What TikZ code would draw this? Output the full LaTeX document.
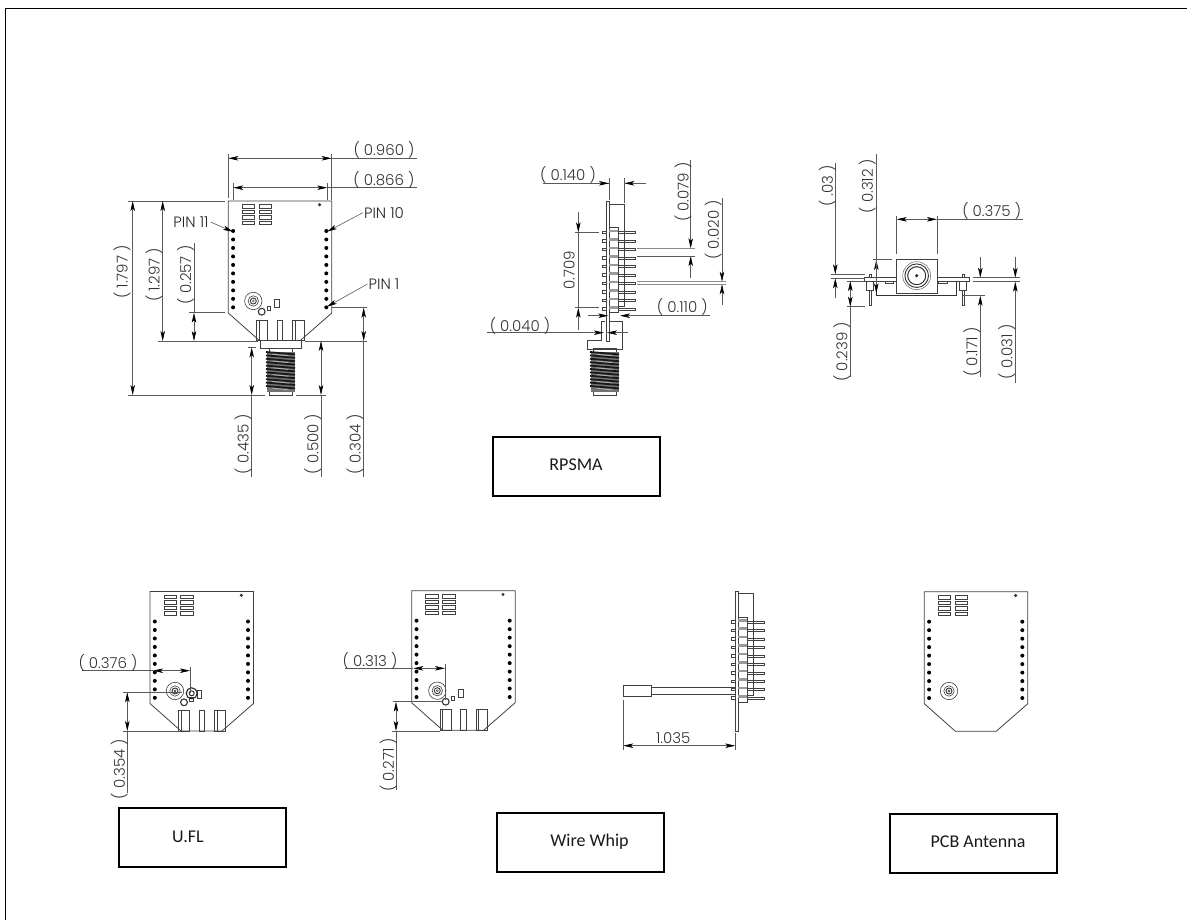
\documentclass[tikz,border=0pt]{standalone}
\usepackage{fontspec}
\setmainfont{Poppins Light}
\newfontfamily\boxfont{Carlito}
\usetikzlibrary{arrows.meta}

\tikzset{
    partline/.style={draw=black!75, line width=0.6pt},
    dimline/.style={draw=black!65, line width=0.6pt},
    dimtip/.style={dimline, -{Stealth[length=10pt, width=4.5pt, inset=2.5pt, black]}},
    dimboth/.style={dimline, {Stealth[length=10pt, width=4.5pt, inset=2.5pt, black]}-{Stealth[length=10pt, width=4.5pt, inset=2.5pt, black]}},
    dimlabel/.style={font=\fontsize{15}{17}\selectfont, text=black!80, inner sep=0pt},
    pinlabel/.style={font=\fontsize{15}{17}\selectfont, text=black!85, inner sep=1pt},
    namebox/.style={draw=black, line width=2pt, minimum width=167pt, minimum height=59pt},
    boxlabel/.style={font=\boxfont\fontsize{18}{20}\selectfont, text=black!90, inner sep=0pt},
    % board seen from the front, origin at its top left corner
    boardfront/.pic={
        \draw[partline, line width=0.8pt] (0,0) -- (103.5,0) -- (103.5,112) -- (72,139.5) -- (31,139.5) -- (0,112) -- cycle;
        \foreach \i in {0,...,9} {
            \fill[black] (4.8,30+8.48*\i) circle (2);
            \fill[black] (98,30+8.48*\i) circle (2);
        }
        \fill[black!80] (91.3,3.8) circle (1.7);
        \foreach \x in {14,30.7} {
            \foreach \y in {3.7,9.2,14.7,20.2} {
                \draw[partline] (\x,\y) rectangle (\x+12.4,\y+3.4);
            }
        }
    },
    % antenna socket rings
    socket/.pic={
        \draw[partline] (0,0) circle (8.7);
        \draw[partline] (0,0) circle (5.2);
        \draw[black!80, line width=0.9pt] (0,0) circle (3);
        \draw[black!80] (0,0) circle (1);
    },
    % small parts next to the socket
    smallparts/.pic={
        \draw[black!80, line width=1.1pt] (0,0) circle (3.4);
        \draw[partline] (5.5,-5) rectangle (9,-1.5);
        \draw[partline] (13,-12.5) rectangle (17.5,-4);
    },
    % three pads at the lower edge
    edgepads/.pic={
        \draw[partline, line width=0.8pt] (28.3,119) rectangle (39.3,139.5);
        \draw[partline, line width=0.8pt] (31,119) -- (31,139.5);
        \draw[partline, line width=0.8pt] (49,119) rectangle (54.5,139.5);
        \draw[partline, line width=0.8pt] (64.3,119) rectangle (75.7,139.5);
        \draw[partline, line width=0.8pt] (67,119) -- (67,139.5);
    },
    % board seen from the side, origin at its top left corner
    boardside/.pic={
        \draw[partline, line width=0.9pt] (0,0) rectangle (3,140);
        \draw[partline, line width=0.9pt] (3,2.5) -- (18,2.5) -- (18,104.5) -- (3,104.5);
        \foreach \i in {0,...,9} {
            \draw[partline, line width=0.7pt] (12,30+8.48*\i) rectangle (29.5,32+8.48*\i);
            \draw[partline, line width=0.7pt] (-4,29.5+8.48*\i) rectangle (0,32+8.48*\i);
        }
        \draw[partline, line width=0.9pt, fill=white] (3,26) rectangle (12,111);
        \foreach \i in {0,...,9} {
            \fill[black!40] (3,28+8.48*\i) rectangle (12,30.5+8.48*\i);
        }
    },
    % threaded barrel, origin at the top of its neck
    threadbar/.pic={
        \draw[partline] (-11.5,-1) rectangle (11.5,3);
        \draw[partline] (-11.5,42) rectangle (11.5,46.5);
        \fill[black!55] (-14,3) rectangle (14,43);
        \foreach \t in {3,6.4,...,40} {
            \draw[black!90, line width=1.8pt] (-14.5,\t) -- (14.5,\t+2.4);
        }
        \foreach \t in {5.2,12,...,40} {
            \draw[white!75!black, line width=0.6pt] (-8,\t) -- (8,\t+1.6);
        }
    },
}

\begin{document}
\begin{tikzpicture}[x=1pt, y=-1pt]
    \useasboundingbox (0,0) rectangle (1187,920);

    % sheet frame
    \draw[black, line width=0.8pt] (1187,8) -- (5,8) -- (5,920);

    % RPSMA, front view
    \pic at (228.3,201) {boardfront};
    \pic at (253.3,301) {socket};
    \pic at (261.7,311.7) {smallparts};
    \pic at (228.3,201) {edgepads};
    \draw[partline, fill=white, line width=0.8pt] (260,340.7) rectangle (301,348.3);
    \pic at (280.5,349) {threadbar};

    \draw[dimboth] (228.3,158.3) -- (331.7,158.3);
    \draw[dimline] (331.7,158.3) -- (416.7,158.3);
    \draw[dimline] (228.3,154) -- (228.3,198);
    \draw[dimline] (331.7,154) -- (331.7,200);
    \node[dimlabel] (dimA) at (384,150) {( 0.960 )};

    \draw[dimboth] (233.3,187.7) -- (327.3,187.7);
    \draw[dimline] (327.3,187.7) -- (416.7,187.7);
    \draw[dimline] (233.3,183) -- (233.3,200);
    \draw[dimline] (327.3,183) -- (327.3,200);
    \node[dimlabel] (dimB) at (384,180) {( 0.866 )};

    \draw[dimboth] (132.7,201) -- (132.7,395);
    \draw[dimline] (128,201) -- (225,201);
    \draw[dimline] (128,395) -- (265,395);
    \draw[dimline] (296,395) -- (326,395);
    \node[dimlabel, rotate=90] (dimC) at (122,272) {( 1.797 )};

    \draw[dimboth] (162.7,201) -- (162.7,341);
    \draw[dimline] (158,341) -- (258,341);
    \draw[dimline] (305,341) -- (367,341);
    \node[dimlabel, rotate=90] (dimD) at (154,275) {( 1.297 )};

    \draw[dimboth] (194,312.7) -- (194,341);
    \draw[dimline] (194,243) -- (194,312.7);
    \draw[dimline] (189,312.7) -- (225,312.7);
    \node[dimlabel, rotate=90] (dimE) at (185.5,275) {( 0.257 )};

    \draw[dimboth] (251.7,347.5) -- (251.7,395);
    \draw[dimline] (251.7,395) -- (251.7,476.7);
    \draw[dimline] (248,347.5) -- (256,347.5);
    \node[dimlabel, rotate=90] (dimF) at (243,444) {( 0.435 )};

    \draw[dimboth] (321,341) -- (321,395);
    \draw[dimline] (321,395) -- (321,476.7);
    \node[dimlabel, rotate=90] (dimG) at (312.7,444) {( 0.500 )};

    \draw[dimboth] (363.7,307.7) -- (363.7,341);
    \draw[dimline] (363.7,341) -- (363.7,476.7);
    \draw[dimline] (331.7,307.7) -- (367,307.7);
    \node[dimlabel, rotate=90] (dimH) at (355,444) {( 0.304 )};

    \node[pinlabel] (pinEleven) at (191,221.7) {PIN 11};
    \node[pinlabel] (pinTen) at (384,212.7) {PIN 10};
    \node[pinlabel] (pinOne) at (384,284) {PIN 1};
    \coordinate (holeEleven) at (233,231.7);
    \coordinate (holeTen) at (327,231.7);
    \coordinate (holeOne) at (327,306.7);
    \draw[dimtip, shorten <=1pt] (pinEleven.east) -- (holeEleven);
    \draw[dimtip] (pinTen.west) -- (holeTen);
    \draw[dimtip] (pinOne.west) -- (holeOne);

    % RPSMA, side view
    \pic at (606.3,201.7) {boardside};
    \draw[partline, line width=0.9pt] (610,321.7) -- (622.3,321.7) -- (622.3,349) -- (587.3,349) -- (587.3,340) -- (601.7,340) -- (601.7,321.7) -- (605,321.7);
    \pic at (604.5,349) {threadbar};

    \draw[dimline] (543.3,183.3) -- (609,183.3);
    \draw[dimtip] (590,183.3) -- (609,183.3);
    \draw[dimtip] (645.7,183.3) -- (624.3,183.3);
    \draw[dimline] (609,178) -- (609,200);
    \draw[dimline] (624.3,178) -- (624.3,203);
    \node[dimlabel] (dimI) at (568,175) {( 0.140 )};

    \draw[dimtip] (690.7,160) -- (690.7,248.3);
    \draw[dimtip] (690.7,277.7) -- (690.7,256);
    \draw[dimline, line width=1.2pt, draw=black!45] (636.7,248.3) -- (695,248.3);
    \draw[dimline] (636.7,256) -- (695,256);
    \node[dimlabel, rotate=90] (dimJ) at (683,192) {( 0.079 )};

    \draw[dimtip] (722,198.3) -- (722,281.7);
    \draw[dimtip] (722,305) -- (722,284.3);
    \draw[dimline, line width=0.9pt, draw=black!45] (637.3,281.7) -- (726,281.7);
    \draw[dimline, line width=0.9pt, draw=black!45] (637.3,284.3) -- (726,284.3);
    \node[dimlabel, rotate=90] (dimK) at (713.3,230) {( 0.020 )};

    \draw[dimtip] (578.3,211.7) -- (578.3,232.3);
    \draw[dimtip] (578.3,330) -- (578.3,307.7);
    \draw[dimline] (575,232.3) -- (599.3,232.3);
    \draw[dimline] (575,307.7) -- (599.3,307.7);
    \draw[dimline] (578.3,232.3) -- (578.3,307.7);
    \node[dimlabel, rotate=90] (dimL) at (569.3,270) {0.709};

    \draw[dimtip] (588.3,315.7) -- (608.3,315.7);
    \draw[dimtip] (710,315.7) -- (620,315.7);
    \node[dimlabel] (dimM) at (682.3,307) {( 0.110 )};

    \draw[dimtip] (486.7,332.7) -- (604,332.7);
    \draw[dimtip] (627.7,332.7) -- (607,332.7);
    \node[dimlabel] (dimN) at (520,325.7) {( 0.040 )};

    \node[namebox] (boxRpsma) at (576,466) {};
    \node[boxlabel] (txtRpsma) at (576,464.5) {RPSMA};

    % RPSMA, end view
    \draw[partline, line width=0.9pt] (864.7,277.3) rectangle (969,281.7);
    \draw[partline, line width=0.9pt] (866,281.7) rectangle (873.3,290);
    \draw[partline, line width=0.9pt] (959,281.7) rectangle (966.7,290);
    \draw[partline] (869,290) rectangle (871.3,305.7);
    \draw[partline] (962.3,290) rectangle (964.7,305.7);
    \draw[partline] (869,274) rectangle (871.3,277.3);
    \draw[partline] (962.3,274) rectangle (964.7,277.3);
    \draw[partline] (885,281.7) rectangle (893,283);
    \draw[partline] (938,281.7) rectangle (947,283);
    \draw[black!80, line width=1pt] (876.7,281.7) -- (876.7,295.7) -- (956.7,295.7) -- (956.7,281.7);
    \draw[partline, fill=white, line width=0.9pt] (896.7,259) rectangle (937,293.3);
    \draw[black!70] (916.7,275.7) circle (14);
    \draw[black!80, line width=0.9pt] (916.7,275.7) circle (11.8);
    \draw[black!80, line width=1pt] (916.7,275.7) circle (9);
    \fill[black!80] (916.7,275.7) circle (1.8);

    \draw[dimboth] (896.7,219.3) -- (937,219.3);
    \draw[dimline] (937,219.3) -- (1023.3,219.3);
    \draw[dimline] (896.7,216) -- (896.7,254);
    \draw[dimline] (937,216) -- (937,254);
    \node[dimlabel] (dimO) at (991.7,211) {( 0.375 )};

    \draw[dimtip] (876.3,293.3) -- (876.3,260);
    \draw[dimtip] (876.3,154) -- (876.3,293.3);
    \draw[dimline] (873.3,259) -- (891.7,259);
    \node[dimlabel, rotate=90] (dimP) at (867.3,186) {( 0.312 )};

    \draw[dimtip] (835.3,163.3) -- (835.3,274.3);
    \draw[dimtip] (835.3,298.3) -- (835.3,278.3);
    \draw[dimline] (830.7,274.3) -- (865,274.3);
    \draw[dimline] (830.7,278.3) -- (865,278.3);
    \node[dimlabel, rotate=90] (dimQ) at (827.3,186) {( .03 )};

    \draw[dimboth] (850.3,281) -- (850.3,306.7);
    \draw[dimline] (850.3,306.7) -- (850.3,376.7);
    \draw[dimline] (846.7,306) -- (865,306);
    \draw[dimline] (846.7,281) -- (865,281);
    \node[dimlabel, rotate=90] (dimR) at (841.7,351.7) {( 0.239 )};

    \draw[dimtip] (980.3,256.7) -- (980.3,277.7);
    \draw[dimtip] (980.3,376.7) -- (980.3,295.7);
    \draw[dimline] (972.7,277.7) -- (1020,277.7);
    \draw[dimline] (972.7,281.7) -- (1020,281.7);
    \draw[dimline] (963,295.7) -- (985,295.7);
    \node[dimlabel, rotate=90] (dimS) at (971.7,351.7) {( 0.171 )};

    \draw[dimtip] (1015.3,256.7) -- (1015.3,277.7);
    \draw[dimtip] (1015.3,383) -- (1015.3,281.7);
    \node[dimlabel, rotate=90] (dimT) at (1006.7,351.7) {( 0.031 )};

    % U.FL
    \pic at (150,591.5) {boardfront};
    \pic at (175,691) {socket};
    \pic at (184,702.3) {smallparts};
    \pic at (150,591.5) {edgepads};
    \draw[black!85, line width=1.1pt] (191.7,693.3) circle (5.5);
    \draw[black!85, line width=0.9pt] (191.7,693.3) circle (2.5);

    \draw[dimline] (81.7,670.7) -- (153,670.7);
    \draw[dimboth] (153,670.7) -- (190,670.7);
    \draw[dimline] (190,667) -- (190,693);
    \node[dimlabel] (dimU) at (108,663) {( 0.376 )};

    \draw[dimboth] (127.3,692.3) -- (127.3,731);
    \draw[dimline] (127.3,731) -- (127.3,793);
    \draw[dimline] (123.3,692.3) -- (181.7,692.3);
    \draw[dimline] (122.7,731) -- (180,731);
    \node[dimlabel, rotate=90] (dimV) at (119.3,769) {( 0.354 )};

    \node[namebox] (boxUfl) at (202,837) {};
    \node[boxlabel] (txtUfl) at (188,836.5) {U.FL};

    % wire whip
    \pic at (411.7,590.7) {boardfront};
    \pic at (437.3,690.7) {socket};
    \pic at (445.7,701.7) {smallparts};
    \pic at (411.7,590.7) {edgepads};

    \draw[dimline] (345,668.3) -- (413.3,668.3);
    \draw[dimboth] (413.3,668.3) -- (445,668.3);
    \draw[dimline] (445,664) -- (445,700);
    \node[dimlabel] (dimW) at (370,661) {( 0.313 )};

    \draw[dimboth] (396,701.7) -- (396,731);
    \draw[dimline] (396,731) -- (396,790);
    \draw[dimline] (392.7,701.7) -- (443,701.7);
    \draw[dimline] (392,731) -- (440,731);
    \node[dimlabel, rotate=90] (dimX) at (388.3,765) {( 0.271 )};

    \pic at (735,591) {boardside};
    \draw[partline, line width=0.8pt] (651.7,687.3) -- (735,687.3);
    \draw[partline, line width=0.8pt] (651.7,694.3) -- (735,694.3);
    \draw[partline, line width=0.9pt] (623.3,685) rectangle (651.7,696.7);

    \draw[dimboth] (623.3,745.7) -- (735.3,745.7);
    \draw[dimline] (623.3,700) -- (623.3,750);
    \draw[dimline] (735.3,733) -- (735.3,750);
    \node[dimlabel] (dimY) at (673.3,737.7) {1.035};

    \node[namebox] (boxWhip) at (580.5,842.5) {};
    \node[boxlabel] (txtWhip) at (589.5,842) {Wire Whip};

    % PCB antenna
    \pic at (924.3,591.7) {boardfront};
    \pic at (949,691) {socket};

    \node[namebox] (boxPcb) at (973,843.5) {};
    \node[boxlabel] (txtPcb) at (978,841.7) {PCB Antenna};

\end{tikzpicture}
\end{document}
